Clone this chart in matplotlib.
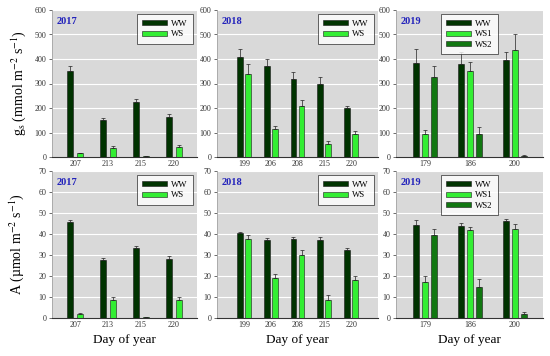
import matplotlib.pyplot as plt
import numpy as np

plt.rcParams['font.family'] = ['Liberation Serif', 'DejaVu Serif']
plt.rcParams['mathtext.fontset'] = 'stix'

# day-of-year categories per year
days_2017 = ['207', '213', '215', '220']
days_2018 = ['199', '206', '208', '215', '220']
days_2019 = ['179', '186', '200']

# stomatal conductance gs
gs_2017 = {'WW': [350, 150, 225, 162], 'WS': [15, 37, 3, 40]}
gs_2017_err = {'WW': [20, 10, 12, 12], 'WS': [3, 8, 1, 7]}
gs_2018 = {'WW': [410, 370, 320, 300, 200], 'WS': [340, 113, 210, 52, 95]}
gs_2018_err = {'WW': [30, 32, 28, 25, 10], 'WS': [38, 12, 22, 12, 10]}
gs_2019 = {'WW': [385, 380, 395], 'WS1': [92, 353, 438], 'WS2': [325, 95, 5]}
gs_2019_err = {'WW': [55, 48, 32], 'WS1': [18, 35, 62], 'WS2': [45, 28, 3]}

# net assimilation A
A_2017 = {'WW': [45.7, 27.5, 33.5, 28.3], 'WS': [1.8, 8.8, 0.3, 8.7]}
A_2017_err = {'WW': [1.2, 1.3, 0.8, 1.2], 'WS': [0.5, 1.2, 0.2, 1.2]}
A_2018 = {'WW': [40.3, 37.0, 37.8, 37.2, 32.5], 'WS': [37.8, 19.0, 30.0, 8.7, 18.2]}
A_2018_err = {'WW': [0.7, 1.0, 1.0, 1.2, 1.0], 'WS': [1.5, 2.0, 2.5, 2.2, 2.0]}
A_2019 = {'WW': [44.3, 44.0, 46.0], 'WS1': [17.2, 41.7, 42.5], 'WS2': [39.5, 15.0, 2.0]}
A_2019_err = {'WW': [2.2, 1.3, 1.2], 'WS1': [3.0, 1.8, 2.5], 'WS2': [2.8, 3.8, 0.8]}

colors = {'WW': '#003300', 'WS': '#33ee33', 'WS1': '#33ee33', 'WS2': '#117711'}

fig = plt.figure(figsize=(5.5, 3.56), dpi=100)
W, H = 550, 356
boxes = [(52, 197), (217, 378), (396, 543)]
rows = [(10, 157), (171, 318)]

def panel(col, row, days, vals, errs, year, ymax, ystep, xlim, width, offs, loc):
    x0, x1 = boxes[col]
    y0, y1 = rows[row]
    ax = fig.add_axes([x0 / W, 1 - y1 / H, (x1 - x0) / W, (y1 - y0) / H])
    ax.set_facecolor('#d9d9d9')
    x = np.arange(len(days))
    for name, off in zip(vals, offs):
        ax.bar(x + off, vals[name], width, color=colors[name], edgecolor='#1a1a1a',
               linewidth=0.4, label=name, zorder=3)
        ax.errorbar(x + off, vals[name], yerr=[np.zeros(len(days)), errs[name]],
                    fmt='none', ecolor='#222222', elinewidth=0.5, capsize=1.5,
                    capthick=0.5, zorder=4)
    ax.set_ylim(0, ymax)
    ax.set_yticks(np.arange(0, ymax + 1, ystep))
    ax.set_xlim(*xlim)
    ax.set_xticks(x)
    ax.set_xticklabels(days)
    ax.grid(axis='y', color='white', linewidth=0.8, zorder=0)
    ax.tick_params(axis='both', labelsize=5.8, length=2, width=0.5, pad=2,
                   colors='#333333')
    ax.tick_params(axis='x', length=0)
    for s in ['top', 'right']:
        ax.spines[s].set_visible(False)
    ax.spines['left'].set_color('#999999')
    ax.spines['left'].set_linewidth(0.5)
    ax.spines['bottom'].set_color('#333333')
    ax.spines['bottom'].set_linewidth(0.8)
    ax.text(0.03, 0.95, year, transform=ax.transAxes, color='#2222bb',
            fontsize=7.5, fontweight='bold', va='top', ha='left')
    leg = ax.legend(loc=loc, fontsize=6.3, frameon=True, fancybox=False,
                    handlelength=2.8, handleheight=0.5, borderpad=0.6,
                    labelspacing=0.3, handletextpad=0.5)
    leg.get_frame().set_edgecolor('#222222')
    leg.get_frame().set_linewidth(0.6)
    return ax

two = [-0.15, 0.15]
three = [-0.2, 0.0, 0.2]
ax = panel(0, 0, days_2017, gs_2017, gs_2017_err, '2017', 600, 100, (-0.7, 3.7), 0.2, two, 'upper right')
ax.set_ylabel('g$_\\mathrm{s}$ (mmol m$^{-2}$ s$^{-1}$)', fontsize=10, labelpad=5)
panel(1, 0, days_2018, gs_2018, gs_2018_err, '2018', 600, 100, (-1, 5), 0.22, two, 'upper right')
panel(2, 0, days_2019, gs_2019, gs_2019_err, '2019', 600, 100, (-0.65, 2.63), 0.13, three, 'upper center')

ax = panel(0, 1, days_2017, A_2017, A_2017_err, '2017', 70, 10, (-0.7, 3.7), 0.2, two, 'upper right')
ax.set_ylabel('A (\u00b5mol m$^{-2}$ s$^{-1}$)', fontsize=10, labelpad=9)
ax.set_xlabel('Day of year', fontsize=9.5)
ax = panel(1, 1, days_2018, A_2018, A_2018_err, '2018', 70, 10, (-1, 5), 0.22, two, 'upper right')
ax.set_xlabel('Day of year', fontsize=9.5)
ax = panel(2, 1, days_2019, A_2019, A_2019_err, '2019', 70, 10, (-0.65, 2.63), 0.13, three, 'upper center')
ax.set_xlabel('Day of year', fontsize=9.5)

fig.savefig('out.png', dpi=100)
